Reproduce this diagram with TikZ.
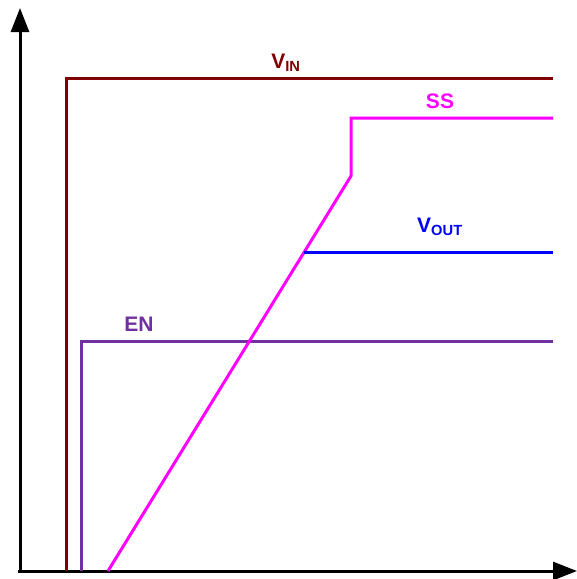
\documentclass[tikz,border=0pt]{standalone}
\usepackage{fontspec}
\setmainfont{Liberation Sans}
\usepackage{tikz}
\usepackage{xcolor}
\usetikzlibrary{positioning, arrows.meta}
\definecolor{vincol}{RGB}{128,0,0}
\definecolor{sscol}{RGB}{255,0,255}
\definecolor{voutcol}{RGB}{0,0,255}
\definecolor{encol}{RGB}{112,48,160}
\tikzset{
    axis/.style={line width=3pt, -{Triangle[length=24pt,width=18pt]}},
    trace/.style={line width=3pt},
    tracelabel/.style={font=\bfseries\fontsize{21}{24}\selectfont, inner sep=0pt}
}

\begin{document}
\begin{tikzpicture}[x=1pt, y=-1pt]
    \useasboundingbox (0,0) rectangle (577,579);

    % Axes
    \coordinate (origin) at (20,571);
    \coordinate (ytip) at (20,8);
    \coordinate (xtip) at (577,571);
    \draw[axis] (18,571) -- (xtip);
    \draw[axis] (origin) -- (ytip);

    % VIN - steps up first
    \coordinate (vinlow) at (66,571);
    \coordinate (vinhigh) at (66,78);
    \coordinate (vinend) at (553,78);
    \draw[trace, vincol] (vinlow) -- (vinhigh) -- (vinend);
    \node[tracelabel, text=vincol] (vinlabel) at (286,63) {V\textsubscript{IN}};

    % EN - steps up after VIN
    \coordinate (enlow) at (81,571);
    \coordinate (enhigh) at (81,341);
    \coordinate (enend) at (553,341);
    \draw[trace, encol] (enlow) -- (enhigh) -- (enend);
    \node[tracelabel, text=encol] (enlabel) at (139,324) {EN};

    % SS - linear ramp, then jump to the top level
    \coordinate (ssstart) at (108,571);
    \coordinate (sskink) at (351,176);
    \coordinate (sstop) at (351,118);
    \coordinate (ssend) at (553,118);
    \draw[trace, sscol, line join=miter] (ssstart) -- (sskink) -- (sstop) -- (ssend);
    \node[tracelabel, text=sscol] (sslabel) at (440,101) {SS};

    % VOUT - follows the ramp until it settles
    \coordinate (voutstart) at (304,252);
    \coordinate (voutend) at (553,252);
    \draw[trace, voutcol] (voutstart) -- (voutend);
    \node[tracelabel, text=voutcol] (voutlabel) at (440,227) {V\textsubscript{OUT}};
\end{tikzpicture}
\end{document}
